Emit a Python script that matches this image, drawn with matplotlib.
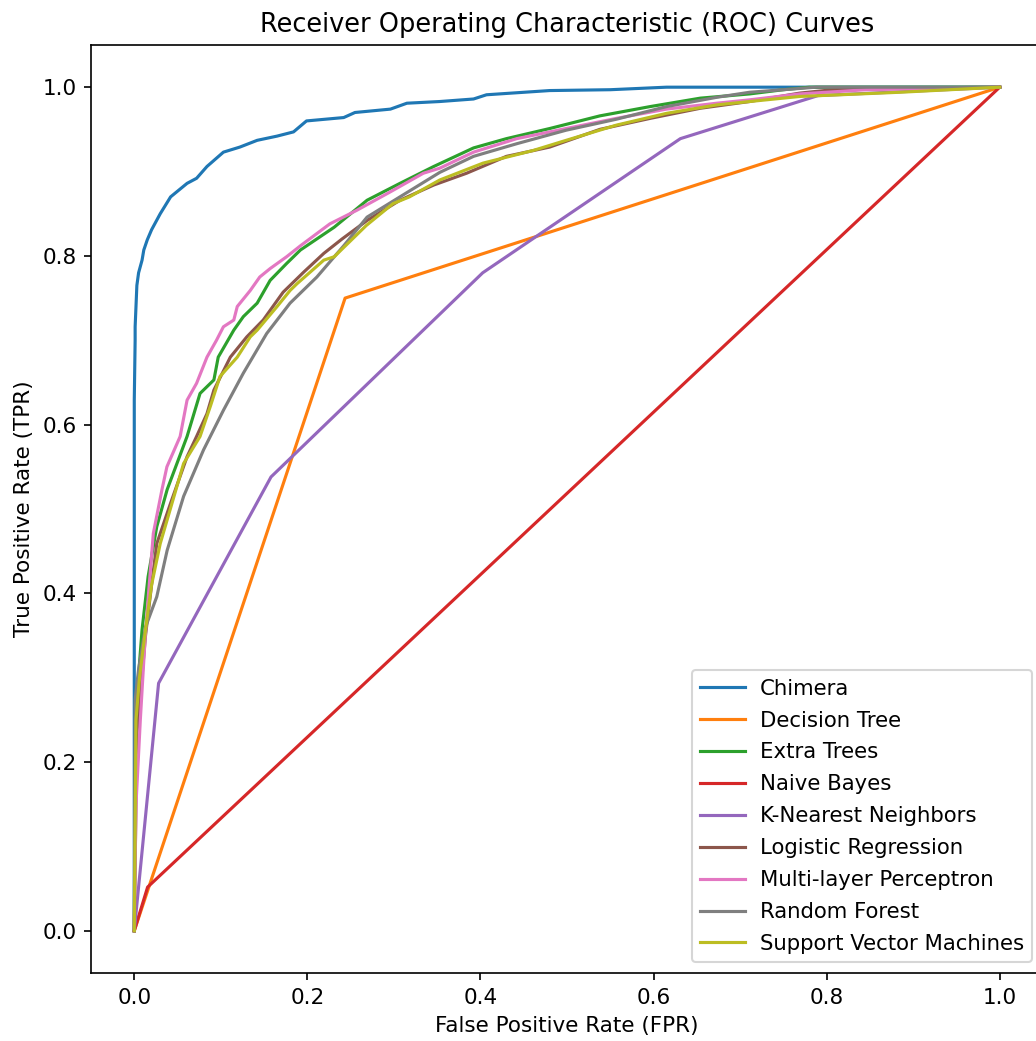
import matplotlib
matplotlib.use("Agg")
import matplotlib.pyplot as plt

labels = ["Chimera", "Decision Tree", "Extra Trees", "Naive Bayes", "K-Nearest Neighbors",
          "Logistic Regression", "Multi-layer Perceptron", "Random Forest", "Support Vector Machines"]

chimera_fpr = [0, 0, 0.001, 0.001, 0.003, 0.005, 0.009, 0.011, 0.015, 0.020, 0.030, 0.042, 0.061, 0.072,
               0.084, 0.103, 0.122, 0.142, 0.165, 0.184, 0.199, 0.242, 0.255, 0.296, 0.315, 0.353, 0.392,
               0.407, 0.480, 0.550, 0.615, 0.7, 1.0]
chimera_tpr = [0, 0.629, 0.70, 0.716, 0.765, 0.78, 0.795, 0.807, 0.819, 0.831, 0.850, 0.870, 0.886, 0.892,
               0.906, 0.923, 0.929, 0.937, 0.942, 0.947, 0.960, 0.964, 0.970, 0.974, 0.981, 0.983, 0.986,
               0.991, 0.996, 0.997, 1.0, 1.0, 1.0]

dt_fpr = [0, 0.2436, 1.0]
dt_tpr = [0, 0.750, 1.0]

et_fpr = [0, 0.001, 0.004, 0.009, 0.016, 0.026, 0.038, 0.061, 0.076, 0.092, 0.097, 0.115, 0.126, 0.142,
          0.157, 0.176, 0.192, 0.231, 0.269, 0.307, 0.346, 0.392, 0.430, 0.480, 0.538, 0.596, 0.654,
          0.711, 0.75, 0.78, 1.0]
et_tpr = [0, 0.20, 0.29, 0.357, 0.42, 0.479, 0.523, 0.586, 0.637, 0.653, 0.680, 0.712, 0.728, 0.744,
          0.771, 0.791, 0.807, 0.834, 0.866, 0.886, 0.906, 0.928, 0.939, 0.951, 0.966, 0.977, 0.987,
          0.992, 0.997, 1.0, 1.0]

nb_fpr = [0, 0.0154, 1.0]
nb_tpr = [0, 0.0518, 1.0]

knn_fpr = [0, 0.0281, 0.158, 0.4026, 0.631, 0.79, 1.0]
knn_tpr = [0, 0.2935, 0.538, 0.780, 0.939, 0.99, 1.0]

lr_fpr = [0, 0.003, 0.008, 0.013, 0.02, 0.026, 0.042, 0.061, 0.072, 0.084, 0.092, 0.111, 0.130, 0.149,
          0.172, 0.196, 0.219, 0.240, 0.269, 0.307, 0.346, 0.384, 0.430, 0.480, 0.538, 0.596, 0.654,
          0.711, 0.769, 0.807, 0.9, 1.0]
lr_tpr = [0, 0.234, 0.29, 0.35, 0.41, 0.459, 0.507, 0.562, 0.586, 0.613, 0.641, 0.680, 0.704, 0.724,
          0.757, 0.781, 0.803, 0.820, 0.842, 0.866, 0.884, 0.898, 0.918, 0.929, 0.950, 0.963, 0.975,
          0.983, 0.993, 0.997, 0.999, 1.0]

mlp_fpr = [0, 0.002, 0.007, 0.0127, 0.0165, 0.022, 0.032, 0.0377, 0.053, 0.061, 0.072, 0.084, 0.095,
           0.103, 0.115, 0.119, 0.134, 0.145, 0.157, 0.176, 0.192, 0.226, 0.257, 0.296, 0.334, 0.353,
           0.392, 0.442, 0.499, 0.557, 0.615, 0.673, 0.711, 0.769, 0.846, 1.0]
mlp_tpr = [0, 0.15, 0.25, 0.35, 0.40, 0.471, 0.523, 0.550, 0.586, 0.629, 0.649, 0.680, 0.700,
           0.716, 0.724, 0.740, 0.759, 0.775, 0.785, 0.799, 0.812, 0.838, 0.854, 0.876, 0.898, 0.904,
           0.923, 0.939, 0.951, 0.963, 0.974, 0.981, 0.985, 0.992, 0.997, 1.0]

rf_fpr = [0, 0.001, 0.005, 0.013, 0.026, 0.038, 0.057, 0.080, 0.103, 0.126, 0.153, 0.180, 0.211, 0.242,
          0.269, 0.307, 0.353, 0.392, 0.442, 0.499, 0.557, 0.615, 0.673, 0.711, 0.75, 0.788, 1.0]
rf_tpr = [0, 0.274, 0.31, 0.36, 0.396, 0.451, 0.515, 0.570, 0.617, 0.661, 0.708, 0.744, 0.775, 0.812,
          0.846, 0.870, 0.899, 0.918, 0.933, 0.949, 0.962, 0.977, 0.988, 0.994, 0.997, 1.0, 1.0]

svm_fpr = [0, 0.002, 0.006, 0.013, 0.02, 0.030, 0.057, 0.076, 0.088, 0.099, 0.119, 0.134, 0.142, 0.165,
           0.180, 0.188, 0.219, 0.231, 0.268, 0.299, 0.318, 0.353, 0.403, 0.461, 0.499, 0.557, 0.615,
           0.673, 0.711, 0.769, 0.885, 1.0]
svm_tpr = [0, 0.25, 0.30, 0.357, 0.41, 0.459, 0.554, 0.586, 0.622, 0.657, 0.680, 0.704, 0.712, 0.740,
           0.759, 0.767, 0.795, 0.799, 0.836, 0.862, 0.870, 0.890, 0.910, 0.925, 0.937, 0.955, 0.969,
           0.979, 0.983, 0.989, 0.994, 1.0]

curves = [(chimera_fpr, chimera_tpr), (dt_fpr, dt_tpr), (et_fpr, et_tpr), (nb_fpr, nb_tpr),
          (knn_fpr, knn_tpr), (lr_fpr, lr_tpr), (mlp_fpr, mlp_tpr), (rf_fpr, rf_tpr), (svm_fpr, svm_tpr)]

plt.rcParams['font.size'] = 10.3

fig = plt.figure(figsize=(1036 / 150, 1041 / 150), dpi=150)
ax = fig.add_axes([91 / 1036, 68 / 1041, 952 / 1036, 928 / 1041])
for (f, t), lab in zip(curves, labels):
    ax.plot(f, t, lw=1.5, label=lab)
ax.set_xlim(-0.05, 1.05)
ax.set_ylim(-0.05, 1.05)
ax.set_xticks([0, 0.2, 0.4, 0.6, 0.8, 1.0])
ax.set_yticks([0, 0.2, 0.4, 0.6, 0.8, 1.0])
ax.set_xlabel("False Positive Rate (FPR)")
ax.set_ylabel("True Positive Rate (TPR)")
ax.set_title("Receiver Operating Characteristic (ROC) Curves", fontsize=12.3)
ax.legend(loc="lower right", fontsize=10.2, labelspacing=0.56, handlelength=2.1, handletextpad=0.7)
fig.savefig("out.png", dpi=150)
